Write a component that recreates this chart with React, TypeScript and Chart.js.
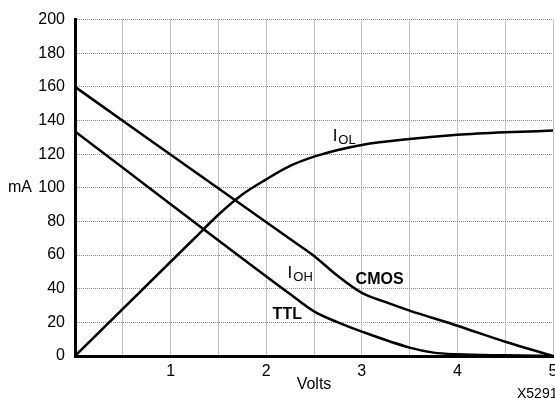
import React, { useEffect, useRef } from 'react';
import { Chart, registerables } from 'chart.js';

Chart.register(...registerables);

// Volts (x) and mA (y)
const cmosVolts = [0, 2.25, 2.5, 2.75, 3, 3.25, 3.5, 4, 4.5, 5];
const cmosIOH = [160, 69.5, 59.5, 47.5, 37.5, 32, 27, 18, 8.5, 0];

const ttlVolts = [0, 2.25, 2.5, 2.75, 3, 3.5, 3.75, 4, 4.5, 5];
const ttlIOH = [133.5, 36.8, 26.5, 20, 14.5, 5, 2, 1, 0.4, 0];

const iolVolts = [0, 1.25, 1.5, 1.75, 2, 2.25, 2.5, 2.75, 3, 3.5, 4, 4.5, 5];
const iolValues = [0, 70, 84, 96, 105, 113, 118.5, 122.5, 125.5, 129, 131.5, 133, 134];

const xTickLabels = ['1', '2', '3', '4', '5'];
const yTickStep = 20;

const FONT = '"Liberation Sans", Arial, Helvetica, sans-serif';

const toPoints = (xs: number[], ys: number[]) => xs.map((x, i) => ({ x, y: ys[i] }));

const textPlugin = {
  id: 'texts',
  afterDraw(chart: any) {
    const ctx = chart.ctx as CanvasRenderingContext2D;
    const xs = chart.scales.x;
    const ys = chart.scales.y;
    ctx.save();
    ctx.fillStyle = '#000';
    ctx.textBaseline = 'alphabetic';
    ctx.textAlign = 'left';
    const sub = (x: number, y: number, main: string, s: string) => {
      const px = xs.getPixelForValue(x);
      const py = ys.getPixelForValue(y);
      ctx.font = `17px ${FONT}`;
      ctx.fillText(main, px, py);
      const w = ctx.measureText(main).width;
      ctx.font = `13px ${FONT}`;
      ctx.fillText(s, px + w + 1, py + 3);
    };
    sub(2.695, 128, 'I', 'OL');
    sub(2.224, 46.2, 'I', 'OH');
    ctx.font = `bold 16px ${FONT}`;
    ctx.fillText('CMOS', xs.getPixelForValue(2.935), ys.getPixelForValue(42.7));
    ctx.fillText('TTL', xs.getPixelForValue(2.067), ys.getPixelForValue(22.2));

    ctx.font = `16px ${FONT}`;
    ctx.textBaseline = 'middle';
    ctx.fillText('mA', 8, ys.getPixelForValue(100));
    ctx.textAlign = 'center';
    ctx.textBaseline = 'alphabetic';
    ctx.fillText('Volts', xs.getPixelForValue(2.5), 389);
    ctx.textAlign = 'left';
    ctx.font = `14px ${FONT}`;
    ctx.fillText('X5291', 517, 398);
    ctx.restore();
  },
};

export default function App() {
  const ref = useRef<HTMLCanvasElement | null>(null);
  useEffect(() => {
    if (!ref.current) return;
    const line = (data: any) => ({
      data,
      borderColor: '#000',
      borderWidth: 2.5,
      pointRadius: 0,
      fill: false,
      cubicInterpolationMode: 'monotone' as const,
    });
    const chart = new Chart(ref.current, {
      type: 'line',
      data: {
        datasets: [
          line(toPoints(cmosVolts, cmosIOH)),
          line(toPoints(ttlVolts, ttlIOH)),
          line(toPoints(iolVolts, iolValues)),
        ],
      },
      options: {
        animation: false,
        responsive: true,
        maintainAspectRatio: false,
        layout: { padding: { top: 14, right: 2, left: 0, bottom: 0 } },
        plugins: { legend: { display: false }, tooltip: { enabled: false } },
        scales: {
          x: {
            type: 'linear',
            min: 0,
            max: 5,
            ticks: {
              stepSize: 0.5,
              autoSkip: false,
              maxRotation: 0,
              padding: 6,
              color: '#000',
              font: { family: FONT, size: 16 },
              callback: (v: any) => {
                const s = String(v);
                return xTickLabels.includes(s) ? s : '';
              },
            },
            grid: { color: '#8c8c8c', lineWidth: 1, drawTicks: false },
            border: { display: true, color: '#000', width: 3, dash: [1, 1] },
            afterFit: (s: any) => {
              s.height = 42;
              s.paddingLeft = 0;
              s.paddingRight = 0;
            },
          },
          y: {
            min: 0,
            max: 200,
            ticks: {
              stepSize: yTickStep,
              padding: 10,
              color: '#000',
              font: { family: FONT, size: 16 },
            },
            grid: { color: '#8c8c8c', lineWidth: 1, drawTicks: false },
            border: { display: true, color: '#000', width: 3, dash: [1, 1] },
            afterFit: (s: any) => {
              s.width = 75;
            },
          },
        },
      },
      plugins: [textPlugin],
    });
    return () => chart.destroy();
  }, []);
  return (
    <div style={{ position: 'absolute', left: 0, top: 0, width: 555, height: 398, background: '#fff' }}>
      <canvas ref={ref} />
    </div>
  );
}
